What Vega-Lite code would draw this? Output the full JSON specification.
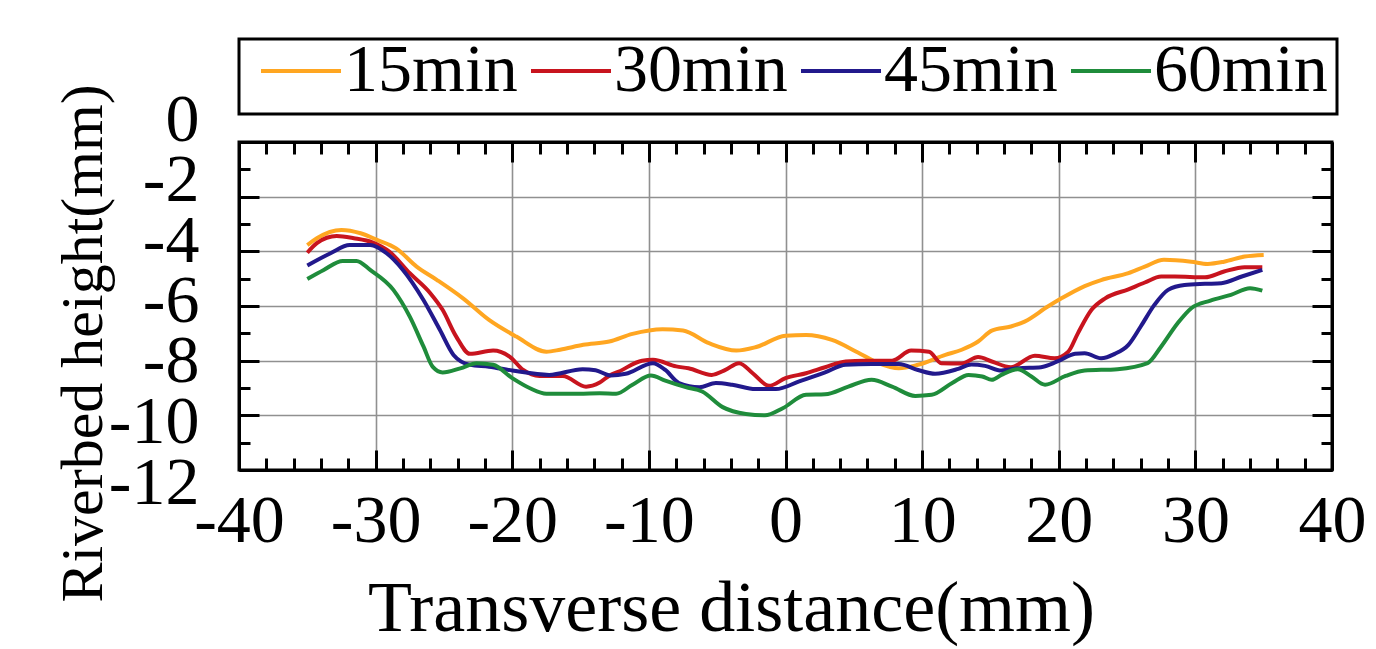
{
 "$schema": "https://vega.github.io/schema/vega-lite/v6.json",
 "width": 1093,
 "height": 328,
 "autosize": {"type": "none"},
 "padding": {"left": 239, "top": 142, "right": 44, "bottom": 179},
 "background": "white",
 "config": {
  "view": {"stroke": "black", "strokeWidth": 3},
  "font": "Liberation Serif",
  "axis": {
   "domainColor": "black", "domainWidth": 3,
   "tickColor": "black", "tickWidth": 3,
   "labelColor": "black", "titleColor": "black",
   "labelFont": "Liberation Serif", "titleFont": "Liberation Serif",
   "labelFontSize": 68, "titleFontWeight": "normal",
   "labelOverlap": false, "labelFlush": false, "labelBound": false,
   "gridColor": "#909090", "gridWidth": 1.6
  }
 },
 "data": {"values": [
  {"t":"15min","x":-35,"y":-3.77},{"t":"15min","x":-34.3,"y":-3.52},{"t":"15min","x":-32.5,"y":-3.22},{"t":"15min","x":-31.1,"y":-3.34},{"t":"15min","x":-29.9,"y":-3.58},{"t":"15min","x":-28.5,"y":-3.89},{"t":"15min","x":-27,"y":-4.56},{"t":"15min","x":-25.5,"y":-5.05},{"t":"15min","x":-23.6,"y":-5.72},{"t":"15min","x":-21.7,"y":-6.51},{"t":"15min","x":-19.7,"y":-7.12},{"t":"15min","x":-17.5,"y":-7.67},{"t":"15min","x":-16.5,"y":-7.6},{"t":"15min","x":-14.8,"y":-7.42},{"t":"15min","x":-12.9,"y":-7.3},{"t":"15min","x":-11.2,"y":-7.02},{"t":"15min","x":-9,"y":-6.85},{"t":"15min","x":-7.5,"y":-6.9},{"t":"15min","x":-5.6,"y":-7.36},{"t":"15min","x":-3.6,"y":-7.63},{"t":"15min","x":-2.2,"y":-7.51},{"t":"15min","x":0,"y":-7.09},{"t":"15min","x":1.5,"y":-7.06},{"t":"15min","x":3.4,"y":-7.24},{"t":"15min","x":5.3,"y":-7.7},{"t":"15min","x":6.8,"y":-8.09},{"t":"15min","x":8.3,"y":-8.28},{"t":"15min","x":9.7,"y":-8.15},{"t":"15min","x":11.7,"y":-7.79},{"t":"15min","x":12.9,"y":-7.6},{"t":"15min","x":14.1,"y":-7.3},{"t":"15min","x":15.1,"y":-6.9},{"t":"15min","x":16.5,"y":-6.75},{"t":"15min","x":17.5,"y":-6.57},{"t":"15min","x":19.2,"y":-6.02},{"t":"15min","x":20.2,"y":-5.72},{"t":"15min","x":21.9,"y":-5.27},{"t":"15min","x":23.1,"y":-5.05},{"t":"15min","x":25.1,"y":-4.8},{"t":"15min","x":26.3,"y":-4.56},{"t":"15min","x":27.7,"y":-4.31},{"t":"15min","x":29.7,"y":-4.38},{"t":"15min","x":30.9,"y":-4.46},{"t":"15min","x":32.1,"y":-4.38},{"t":"15min","x":33.6,"y":-4.19},{"t":"15min","x":35,"y":-4.13},
  {"t":"30min","x":-35,"y":-4.05},{"t":"30min","x":-34.3,"y":-3.7},{"t":"30min","x":-32.85,"y":-3.44},{"t":"30min","x":-31.6,"y":-3.52},{"t":"30min","x":-30.2,"y":-3.68},{"t":"30min","x":-29,"y":-4.01},{"t":"30min","x":-27.5,"y":-4.8},{"t":"30min","x":-26,"y":-5.53},{"t":"30min","x":-25.1,"y":-6.14},{"t":"30min","x":-24.1,"y":-7.12},{"t":"30min","x":-23.1,"y":-7.75},{"t":"30min","x":-21.4,"y":-7.63},{"t":"30min","x":-20.2,"y":-7.85},{"t":"30min","x":-19.2,"y":-8.34},{"t":"30min","x":-18,"y":-8.56},{"t":"30min","x":-16.3,"y":-8.56},{"t":"30min","x":-14.6,"y":-8.95},{"t":"30min","x":-13.6,"y":-8.8},{"t":"30min","x":-12.9,"y":-8.55},{"t":"30min","x":-12.2,"y":-8.4},{"t":"30min","x":-10.5,"y":-8.0},{"t":"30min","x":-9.7,"y":-7.97},{"t":"30min","x":-8,"y":-8.21},{"t":"30min","x":-7.1,"y":-8.28},{"t":"30min","x":-5.4,"y":-8.52},{"t":"30min","x":-4.4,"y":-8.34},{"t":"30min","x":-3.4,"y":-8.09},{"t":"30min","x":-2.4,"y":-8.46},{"t":"30min","x":-1.2,"y":-8.92},{"t":"30min","x":0,"y":-8.64},{"t":"30min","x":1.5,"y":-8.46},{"t":"30min","x":2.9,"y":-8.24},{"t":"30min","x":4.4,"y":-8.03},{"t":"30min","x":5.8,"y":-8.0},{"t":"30min","x":7.8,"y":-8.0},{"t":"30min","x":9.2,"y":-7.63},{"t":"30min","x":10.5,"y":-7.67},{"t":"30min","x":11.4,"y":-8.09},{"t":"30min","x":12.9,"y":-8.1},{"t":"30min","x":14.1,"y":-7.87},{"t":"30min","x":15.1,"y":-8.03},{"t":"30min","x":16.5,"y":-8.24},{"t":"30min","x":18.25,"y":-7.82},{"t":"30min","x":19.7,"y":-7.91},{"t":"30min","x":20.7,"y":-7.67},{"t":"30min","x":21.4,"y":-7.0},{"t":"30min","x":22.4,"y":-6.14},{"t":"30min","x":23.4,"y":-5.72},{"t":"30min","x":25.1,"y":-5.39},{"t":"30min","x":26.3,"y":-5.14},{"t":"30min","x":27.5,"y":-4.92},{"t":"30min","x":28.5,"y":-4.92},{"t":"30min","x":30.7,"y":-4.95},{"t":"30min","x":32.1,"y":-4.74},{"t":"30min","x":33.6,"y":-4.58},{"t":"30min","x":34.9,"y":-4.58},
  {"t":"45min","x":-35,"y":-4.52},{"t":"45min","x":-33.3,"y":-4.07},{"t":"45min","x":-31.9,"y":-3.77},{"t":"45min","x":-30.4,"y":-3.77},{"t":"45min","x":-29.2,"y":-4.07},{"t":"45min","x":-28,"y":-4.68},{"t":"45min","x":-26.5,"y":-5.78},{"t":"45min","x":-25.3,"y":-6.87},{"t":"45min","x":-24.3,"y":-7.79},{"t":"45min","x":-23.1,"y":-8.15},{"t":"45min","x":-21.7,"y":-8.22},{"t":"45min","x":-20,"y":-8.36},{"t":"45min","x":-17.3,"y":-8.52},{"t":"45min","x":-14.85,"y":-8.31},{"t":"45min","x":-13.9,"y":-8.35},{"t":"45min","x":-12.8,"y":-8.54},{"t":"45min","x":-11.7,"y":-8.48},{"t":"45min","x":-9.7,"y":-8.09},{"t":"45min","x":-8.8,"y":-8.34},{"t":"45min","x":-7.8,"y":-8.82},{"t":"45min","x":-6.3,"y":-8.97},{"t":"45min","x":-5.1,"y":-8.82},{"t":"45min","x":-3.9,"y":-8.88},{"t":"45min","x":-2.2,"y":-9.04},{"t":"45min","x":-0.7,"y":-9.04},{"t":"45min","x":1,"y":-8.76},{"t":"45min","x":2.9,"y":-8.43},{"t":"45min","x":4.4,"y":-8.15},{"t":"45min","x":6.3,"y":-8.12},{"t":"45min","x":8.3,"y":-8.12},{"t":"45min","x":9.7,"y":-8.34},{"t":"45min","x":10.95,"y":-8.48},{"t":"45min","x":12.65,"y":-8.3},{"t":"45min","x":13.6,"y":-8.14},{"t":"45min","x":14.6,"y":-8.19},{"t":"45min","x":15.8,"y":-8.36},{"t":"45min","x":17,"y":-8.28},{"t":"45min","x":18.7,"y":-8.24},{"t":"45min","x":19.9,"y":-8.03},{"t":"45min","x":21.2,"y":-7.75},{"t":"45min","x":21.9,"y":-7.73},{"t":"45min","x":23.1,"y":-7.91},{"t":"45min","x":24.1,"y":-7.75},{"t":"45min","x":25.1,"y":-7.42},{"t":"45min","x":26,"y":-6.75},{"t":"45min","x":27,"y":-5.96},{"t":"45min","x":28,"y":-5.41},{"t":"45min","x":29.2,"y":-5.23},{"t":"45min","x":30.7,"y":-5.19},{"t":"45min","x":31.9,"y":-5.17},{"t":"45min","x":33.4,"y":-4.92},{"t":"45min","x":34.9,"y":-4.68},
  {"t":"60min","x":-35,"y":-5.01},{"t":"60min","x":-33.8,"y":-4.68},{"t":"60min","x":-32.4,"y":-4.35},{"t":"60min","x":-31.4,"y":-4.35},{"t":"60min","x":-30.4,"y":-4.68},{"t":"60min","x":-28.7,"y":-5.41},{"t":"60min","x":-27.5,"y":-6.39},{"t":"60min","x":-26.5,"y":-7.48},{"t":"60min","x":-25.8,"y":-8.24},{"t":"60min","x":-25.1,"y":-8.43},{"t":"60min","x":-23.8,"y":-8.28},{"t":"60min","x":-22.6,"y":-8.09},{"t":"60min","x":-21.4,"y":-8.15},{"t":"60min","x":-20,"y":-8.64},{"t":"60min","x":-18.7,"y":-9.01},{"t":"60min","x":-17.5,"y":-9.21},{"t":"60min","x":-15.1,"y":-9.21},{"t":"60min","x":-13.6,"y":-9.19},{"t":"60min","x":-12.4,"y":-9.21},{"t":"60min","x":-11.2,"y":-8.88},{"t":"60min","x":-9.85,"y":-8.54},{"t":"60min","x":-8.8,"y":-8.73},{"t":"60min","x":-7.3,"y":-8.97},{"t":"60min","x":-6.1,"y":-9.13},{"t":"60min","x":-4.6,"y":-9.7},{"t":"60min","x":-2.9,"y":-9.95},{"t":"60min","x":-1.5,"y":-10.0},{"t":"60min","x":-0.2,"y":-9.74},{"t":"60min","x":1.5,"y":-9.25},{"t":"60min","x":2.9,"y":-9.23},{"t":"60min","x":4.6,"y":-8.95},{"t":"60min","x":6.3,"y":-8.7},{"t":"60min","x":7.8,"y":-8.95},{"t":"60min","x":9.5,"y":-9.29},{"t":"60min","x":10.7,"y":-9.25},{"t":"60min","x":12.2,"y":-8.82},{"t":"60min","x":13.4,"y":-8.52},{"t":"60min","x":14.4,"y":-8.58},{"t":"60min","x":15.1,"y":-8.7},{"t":"60min","x":15.8,"y":-8.52},{"t":"60min","x":17,"y":-8.31},{"t":"60min","x":18,"y":-8.58},{"t":"60min","x":19,"y":-8.88},{"t":"60min","x":20.5,"y":-8.56},{"t":"60min","x":21.9,"y":-8.36},{"t":"60min","x":24.3,"y":-8.31},{"t":"60min","x":26.5,"y":-8.09},{"t":"60min","x":27.5,"y":-7.48},{"t":"60min","x":28.7,"y":-6.63},{"t":"60min","x":29.7,"y":-6.08},{"t":"60min","x":31.1,"y":-5.8},{"t":"60min","x":32.6,"y":-5.59},{"t":"60min","x":34,"y":-5.35},{"t":"60min","x":34.9,"y":-5.44}
 ]},
 "layer": [
  {
   "mark": {"type": "line", "strokeWidth": 4, "interpolate": "monotone"},
   "encoding": {
    "x": {"field": "x", "type": "quantitative",
     "scale": {"domain": [-40, 40], "nice": false, "zero": false},
     "axis": {
      "orient": "bottom",
      "values": [-40,-38,-36,-34,-32,-30,-28,-26,-24,-22,-20,-18,-16,-14,-12,-10,-8,-6,-4,-2,0,2,4,6,8,10,12,14,16,18,20,22,24,26,28,30,32,34,36,38,40],
      "labelExpr": "datum.value % 10 === 0 ? '' + datum.value : ''",
      "tickSize": {"condition": {"test": "datum.value % 10 === 0", "value": -20}, "value": -12},
      "gridOpacity": {"condition": {"test": "datum.value % 10 === 0", "value": 1}, "value": 0},
      "labelPadding": 37,
      "labelAlign": "center",
      "labelBaseline": "top",
      "encode": {"labels": {"update": {"dx": {"signal": "datum.value == -40 ? -2 : datum.value == 40 ? -10 : datum.value < 0 ? -14 : datum.value > 0 ? 10 : 0"}}}},
      "title": "Transverse distance(mm)",
      "titleFontSize": 72,
      "titleX": 492,
      "titleY": 160,
      "titleAlign": "center",
      "titleBaseline": "alphabetic"
     }
    },
    "y": {"field": "y", "type": "quantitative",
     "scale": {"domain": [-12, 0], "nice": false, "zero": false},
     "axis": {
      "orient": "left",
      "values": [-12,-11,-10,-9,-8,-7,-6,-5,-4,-3,-2,-1,0],
      "labelExpr": "datum.value % 2 === 0 ? '' + datum.value : ''",
      "tickSize": {"condition": {"test": "datum.value % 2 === 0", "value": -20}, "value": -11},
      "gridOpacity": {"condition": {"test": "datum.value % 2 === 0", "value": 1}, "value": 0},
      "labelOffset": {"condition": [
        {"test": "datum.value == 0", "value": -22},
        {"test": "datum.value == -2", "value": -16},
        {"test": "datum.value == -4", "value": -10},
        {"test": "datum.value == -6", "value": -5},
        {"test": "datum.value == -8", "value": 1},
        {"test": "datum.value == -10", "value": 7},
        {"test": "datum.value == -12", "value": 13}
      ], "value": 0},
      "labelPadding": 60,
      "labelAlign": "right",
      "labelBaseline": "middle",
      "title": "Riverbed height(mm)",
      "titleFontSize": 60,
      "titleAngle": -90,
      "titleX": -138,
      "titleY": 201,
      "titleAlign": "center",
      "titleBaseline": "alphabetic"
     }
    },
    "color": {"field": "t", "type": "nominal",
     "scale": {"domain": ["15min", "30min", "45min", "60min"], "range": ["#FFA621", "#C8141E", "#22198C", "#1F8C3B"]},
     "legend": {
      "orient": "none", "legendX": 0, "legendY": -103,
      "direction": "horizontal", "title": null,
      "labelFont": "Liberation Serif", "labelFontSize": 68, "labelColor": "black", "labelLimit": 400,
      "symbolType": "stroke", "symbolSize": 6400, "symbolStrokeWidth": 4,
      "clipHeight": 46,
      "symbolOffset": 11, "labelOffset": 1, "columnPadding": 0,
      "padding": 9, "strokeColor": "black",
      "encode": {"legend": {"update": {"strokeWidth": {"value": 3}}}}
     }
    }
   }
  },
  {
   "mark": {"type": "line", "opacity": 0},
   "encoding": {
    "x": {"field": "x", "type": "quantitative",
     "axis": {
      "orient": "top", "labels": false, "title": null, "grid": false,
      "values": [-40,-38,-36,-34,-32,-30,-28,-26,-24,-22,-20,-18,-16,-14,-12,-10,-8,-6,-4,-2,0,2,4,6,8,10,12,14,16,18,20,22,24,26,28,30,32,34,36,38,40],
      "tickSize": {"condition": {"test": "datum.value % 10 === 0", "value": -20}, "value": -12}
     }
    },
    "y": {"field": "y", "type": "quantitative",
     "axis": {
      "orient": "right", "labels": false, "title": null, "grid": false,
      "values": [-12,-11,-10,-9,-8,-7,-6,-5,-4,-3,-2,-1,0],
      "tickSize": {"condition": {"test": "datum.value % 2 === 0", "value": -20}, "value": -11}
     }
    },
    "detail": {"field": "t", "type": "nominal"}
   }
  }
 ],
 "resolve": {"axis": {"x": "independent", "y": "independent"}}
}
